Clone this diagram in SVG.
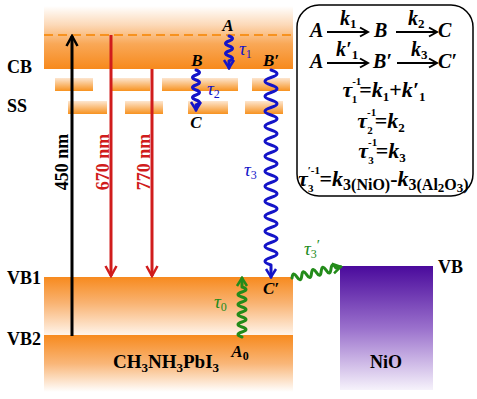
<svg xmlns="http://www.w3.org/2000/svg" width="477" height="399" viewBox="0 0 477 399">
<style>
.t{font-family:"Liberation Serif","DejaVu Serif",serif;font-weight:bold;fill:#000}
.i{font-style:italic}
.n{font-style:normal}
.s{font-size:13px;font-style:normal}
.sb{font-size:16px;font-style:normal}
.su{font-size:11px;font-style:normal}
.tau{font-family:"Liberation Serif","DejaVu Serif",serif;font-style:italic;font-size:19px}
.ts{font-size:12px;font-style:normal}
.blue{fill:#1414c8}
.green{fill:#238b1a}
.red{fill:#d01c1c}
.wb{fill:none;stroke:#1414c8;stroke-width:3;stroke-linecap:round;stroke-linejoin:round}
.wg{fill:none;stroke:#238b1a;stroke-width:3;stroke-linecap:round;stroke-linejoin:round}
.ar{fill:none;stroke-width:3}
.fa{fill:none;stroke:#000;stroke-width:2}
</style>
<defs>
<linearGradient id="gCB" x1="0" y1="0" x2="0" y2="1">
<stop offset="0" stop-color="#ffffff"/>
<stop offset="0.3" stop-color="#fcd9b8"/>
<stop offset="0.6" stop-color="#f9a857"/>
<stop offset="1" stop-color="#f7891c"/>
</linearGradient>
<linearGradient id="gVB" x1="0" y1="0" x2="0" y2="1">
<stop offset="0" stop-color="#f78a1e"/>
<stop offset="0.45" stop-color="#f9b372"/>
<stop offset="1" stop-color="#fff4ea"/>
</linearGradient>
<linearGradient id="gVB2" x1="0" y1="0" x2="0" y2="1">
<stop offset="0" stop-color="#f78a1e"/>
<stop offset="0.5" stop-color="#f9b678"/>
<stop offset="1" stop-color="#ffffff"/>
</linearGradient>
<linearGradient id="gSS" x1="0" y1="0" x2="0" y2="1">
<stop offset="0" stop-color="#fde6d0"/>
<stop offset="1" stop-color="#f7921f"/>
</linearGradient>
<linearGradient id="gNiO" x1="0" y1="0" x2="0" y2="1">
<stop offset="0" stop-color="#4a0a9c"/>
<stop offset="0.5" stop-color="#9a70cc"/>
<stop offset="1" stop-color="#f6f2fb"/>
</linearGradient>
<marker id="mBk" viewBox="-12 -7 14 14" refX="0" refY="0" markerWidth="14" markerHeight="14" markerUnits="userSpaceOnUse" orient="auto"><path d="M-10,-5.5 L0,0 L-10,5.5" fill="none" stroke="#000" stroke-width="2.5"/></marker>
<marker id="mRd" viewBox="-12 -7 14 14" refX="0" refY="0" markerWidth="14" markerHeight="14" markerUnits="userSpaceOnUse" orient="auto"><path d="M-10,-5.5 L0,0 L-10,5.5" fill="none" stroke="#d01c1c" stroke-width="2.5"/></marker>
<marker id="mBl" viewBox="-12 -7 14 14" refX="0" refY="0" markerWidth="14" markerHeight="14" markerUnits="userSpaceOnUse" orient="auto"><path d="M-8,-5 L0,0 L-8,5" fill="none" stroke="#1414c8" stroke-width="2.5"/></marker>
<marker id="mGr" viewBox="-12 -7 14 14" refX="0" refY="0" markerWidth="14" markerHeight="14" markerUnits="userSpaceOnUse" orient="auto"><path d="M-8,-5 L0,0 L-8,5" fill="none" stroke="#238b1a" stroke-width="2.5"/></marker>
<marker id="mF" viewBox="-10 -6 12 12" refX="0" refY="0" markerWidth="12" markerHeight="12" markerUnits="userSpaceOnUse" orient="auto"><path d="M-8,-4.5 L0,0 L-8,4.5" fill="none" stroke="#000" stroke-width="2"/></marker>
</defs>

<g id="cb-band">
<rect x="44" y="6" width="249" height="63" fill="url(#gCB)"/>
<line x1="44" y1="35" x2="294" y2="35" stroke="#f7921f" stroke-width="1.8" stroke-dasharray="9 5"/>
<text class="t" x="7" y="73" font-size="18">CB</text>
</g>

<g id="ss-levels">
<rect x="55" y="78" width="38" height="13" fill="url(#gSS)"/>
<rect x="112" y="78" width="38" height="13" fill="url(#gSS)"/>
<rect x="162" y="78" width="76" height="13" fill="url(#gSS)"/>
<rect x="252" y="78" width="38" height="13" fill="url(#gSS)"/>
<rect x="68" y="101" width="39" height="13" fill="url(#gSS)"/>
<rect x="125" y="101" width="38" height="13" fill="url(#gSS)"/>
<rect x="188" y="101" width="40" height="13" fill="url(#gSS)"/>
<rect x="245" y="101" width="38" height="13" fill="url(#gSS)"/>
<text class="t" x="7" y="112" font-size="18">SS</text>
</g>

<g id="vb1-band">
<rect x="44" y="277" width="249" height="58" fill="url(#gVB)"/>
<text class="t" x="7" y="284" font-size="18">VB1</text>
</g>

<g id="vb2-band">
<rect x="44" y="335" width="249" height="57" fill="url(#gVB2)"/>
<text class="t" x="7" y="345" font-size="18">VB2</text>
<text class="t" x="113" y="368" font-size="19">CH<tspan font-size="13" dy="4">3</tspan><tspan dy="-4">NH</tspan><tspan font-size="13" dy="4">3</tspan><tspan dy="-4">PbI</tspan><tspan font-size="13" dy="4">3</tspan></text>
</g>

<g id="nio">
<rect x="340" y="266" width="93" height="124" fill="url(#gNiO)"/>
<text class="t" x="386" y="368" font-size="18" text-anchor="middle">NiO</text>
<text class="t" x="438" y="273" font-size="18">VB</text>
</g>

<g id="formula-box">
<rect x="297" y="5" width="176" height="191" rx="22" ry="22" fill="#fff" stroke="#000" stroke-width="1.5"/>
<g class="t i" font-size="20">
<text x="310" y="37">A</text>
<text x="340" y="25">k<tspan class="s" dy="3">1</tspan></text>
<text x="374" y="37">B</text>
<text x="408" y="25">k<tspan class="s" dy="3">2</tspan></text>
<text x="438" y="37">C</text>
<text x="310" y="68">A</text>
<text x="336" y="56">k′<tspan class="s" dy="3">1</tspan></text>
<text x="373" y="68">B′</text>
<text x="411" y="56">k<tspan class="s" dy="3">3</tspan></text>
<text x="438" y="68">C′</text>
</g>
<line class="fa" x1="327" y1="32" x2="368" y2="32" marker-end="url(#mF)"/>
<line class="fa" x1="396" y1="32" x2="437" y2="32" marker-end="url(#mF)"/>
<line class="fa" x1="327" y1="63" x2="368" y2="63" marker-end="url(#mF)"/>
<line class="fa" x1="397" y1="63" x2="437" y2="63" marker-end="url(#mF)"/>
<g class="t i" font-size="22">
<text x="384" y="97" text-anchor="middle">τ<tspan class="su" dy="-12">-1</tspan><tspan class="su" dx="-9" dy="18">1</tspan><tspan class="n" dx="2" dy="-6">=</tspan>k<tspan class="s" dy="4">1</tspan><tspan class="n" dy="-4">+</tspan>k′<tspan class="s" dy="4">1</tspan></text>
<text x="381" y="128" text-anchor="middle">τ<tspan class="su" dy="-12">-1</tspan><tspan class="su" dx="-9" dy="18">2</tspan><tspan class="n" dx="2" dy="-6">=</tspan>k<tspan class="s" dy="4">2</tspan></text>
<text x="382" y="158" text-anchor="middle">τ<tspan class="su" dy="-12">-1</tspan><tspan class="su" dx="-9" dy="18">3</tspan><tspan class="n" dx="2" dy="-6">=</tspan>k<tspan class="s" dy="4">3</tspan></text>
<text x="298" y="186">τ<tspan class="su" dy="-12">′-1</tspan><tspan class="su" dx="-12" dy="18">3</tspan><tspan class="n" dx="6" dy="-6">=</tspan>k<tspan class="sb" dy="4">3(NiO)</tspan><tspan class="n" dy="-4">-</tspan>k<tspan class="sb" dy="4">3(Al</tspan><tspan class="s" dy="2">2</tspan><tspan class="sb" dy="-2">O</tspan><tspan class="s" dy="2">3</tspan><tspan class="sb" dy="-2">)</tspan></text>
</g>
</g>

<g id="state-labels">
<text class="t i" x="228" y="31" font-size="17" text-anchor="middle">A</text>
<text class="t i" x="197" y="66" font-size="17" text-anchor="middle">B</text>
<text class="t i" x="196" y="128" font-size="17" text-anchor="middle">C</text>
<text class="t i" x="271" y="66" font-size="17" text-anchor="middle">B′</text>
<text class="t i" x="271" y="294" font-size="17" text-anchor="middle">C′</text>
<text class="t i" x="240" y="357" font-size="17" text-anchor="middle">A<tspan class="n" font-size="12" dy="3">0</tspan></text>
<text class="tau blue" x="239" y="55">τ<tspan class="ts" dy="3">1</tspan></text>
<text class="tau blue" x="207" y="95">τ<tspan class="ts" dy="3">2</tspan></text>
<text class="tau blue" x="244" y="176">τ<tspan class="ts" dy="3">3</tspan></text>
<text class="tau green" x="214" y="308">τ<tspan class="ts" dy="3">0</tspan></text>
<text class="tau green" x="304" y="255">τ<tspan class="ts" dy="3">3</tspan><tspan font-size="15" font-style="normal" dy="-8">′</tspan></text>
</g>

<g id="connectors">
<line class="ar" x1="72" y1="336" x2="72" y2="36" stroke="#000" marker-end="url(#mBk)"/>
<line class="ar" x1="111" y1="35" x2="111" y2="276" stroke="#d01c1c" marker-end="url(#mRd)"/>
<line class="ar" x1="152" y1="69" x2="152" y2="276" stroke="#d01c1c" marker-end="url(#mRd)"/>
<text class="t" transform="translate(68,162) rotate(-90)" font-size="18" text-anchor="middle">450 nm</text>
<text class="t red" transform="translate(109,162) rotate(-90)" font-size="18" text-anchor="middle">670 nm</text>
<text class="t red" transform="translate(150,162) rotate(-90)" font-size="18" text-anchor="middle">770 nm</text>
<path class="wb" d="M229,36 q7,2.5 0,5 t0,5 t0,5 t0,5 t0,5 l0,7" marker-end="url(#mBl)"/>
<path class="wb" d="M196,70 q7,2.5 0,5 t0,5 t0,5 t0,5 t0,5 t0,5 t0,5 l0,5" marker-end="url(#mBl)"/>
<path class="wb" d="M271,70 q12,3.75 0,7.5 t0,7.5 t0,7.5 t0,7.5 t0,7.5 t0,7.5 t0,7.5 t0,7.5 t0,7.5 t0,7.5 t0,7.5 t0,7.5 t0,7.5 t0,7.5 t0,7.5 t0,7.5 t0,7.5 t0,7.5 t0,7.5 t0,7.5 t0,7.5 t0,7.5 t0,7.5 t0,7.5 t0,7.5 t0,7.5 l0,12" marker-end="url(#mBl)"/>
<path class="wg" d="M242,337 q-8,-2.5 0,-5 t0,-5 t0,-5 t0,-5 t0,-5 t0,-5 t0,-5 t0,-5 t0,-5 t0,-5 l0,-9" marker-end="url(#mGr)"/>
<path class="wg" transform="translate(292,278) rotate(-13)" d="M0,0 q2.5,-7 5,0 t5,0 t5,0 t5,0 t5,0 t5,0 t5,0 t5,0 t5,0 l5,0" marker-end="url(#mGr)"/>
</g>
</svg>
